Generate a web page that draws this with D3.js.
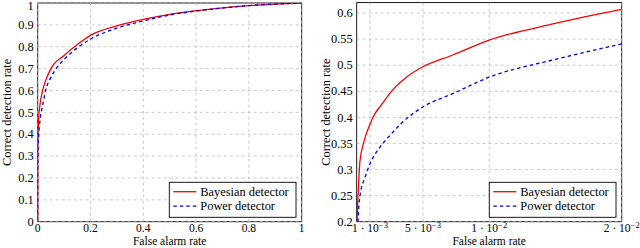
<!DOCTYPE html>
<html><head><meta charset="utf-8">
<script src="https://cdn.jsdelivr.net/npm/d3@7/dist/d3.min.js"></script>
<style>body{margin:0;background:#fff}svg{display:block}</style>
</head><body><svg id="c" width="640" height="248" font-family="Liberation Serif, DejaVu Serif, serif" font-size="12.4px"></svg>
<script>
// Bayesian detector ROC
const bayesX = [0, 0.00003, 0.00012, 0.00025, 0.0005, 0.001, 0.0014, 0.0018, 0.0028, 0.0038, 0.005, 0.0073, 0.01, 0.0148, 0.02, 0.03, 0.05, 0.1, 0.15, 0.2, 0.3, 0.4, 0.5, 0.6, 0.7, 0.8, 0.9, 1];
const bayesY = [0, 0.2, 0.259, 0.317, 0.349, 0.387, 0.408, 0.422, 0.455, 0.478, 0.497, 0.52, 0.548, 0.579, 0.607, 0.645, 0.7, 0.76, 0.81, 0.852, 0.895, 0.925, 0.948, 0.965, 0.978, 0.988, 0.995, 1];
// Power detector ROC
const powerX = [0, 0.0001, 0.00025, 0.00063, 0.001, 0.00176, 0.0025, 0.0033, 0.005, 0.0073, 0.01, 0.0148, 0.02, 0.03, 0.05, 0.07, 0.1, 0.15, 0.2, 0.3, 0.4, 0.5, 0.6, 0.7, 0.8, 0.9, 1];
const powerY = [0, 0.2, 0.25, 0.285, 0.311, 0.343, 0.365, 0.387, 0.42, 0.446, 0.477, 0.51, 0.541, 0.6, 0.66, 0.7, 0.742, 0.795, 0.835, 0.885, 0.918, 0.945, 0.963, 0.977, 0.988, 0.995, 1];

const leftXTicks = [0, 0.2, 0.4, 0.6, 0.8, 1];
const leftXLabels = ["0", "0.2", "0.4", "0.6", "0.8", "1"];
const leftYTicks = [0, 0.1, 0.2, 0.3, 0.4, 0.5, 0.6, 0.7, 0.8, 0.9, 1];
const leftYLabels = ["0", "0.1", "0.2", "0.3", "0.4", "0.5", "0.6", "0.7", "0.8", "0.9", "1"];
const rightXTicks = [0.001, 0.005, 0.01, 0.02];
const rightXMant = ["1", "5", "1", "2"];
const rightXExp = ["−3", "−3", "−2", "−2"];
const rightYTicks = [0.2, 0.25, 0.3, 0.35, 0.4, 0.45, 0.5, 0.55, 0.6];
const rightYLabels = ["0.2", "0.25", "0.3", "0.35", "0.4", "0.45", "0.5", "0.55", "0.6"];
const seriesNames = ["Bayesian detector", "Power detector"];
const xTitle = "False alarm rate";
const yTitle = "Correct detection rate";

const bayes = bayesX.map((x, i) => [x, bayesY[i]]);
const power = powerX.map((x, i) => [x, powerY[i]]);
const svg = d3.select("#c");

function panel(id, x, y, xt, yt, yl, xLabelFn, legendX) {
  const g = svg.append("g");
  const [x0, x1] = x.range(), [y0, y1] = y.range();
  g.append("clipPath").attr("id", id).append("rect")
    .attr("x", x0).attr("y", y1).attr("width", x1 - x0).attr("height", y0 - y1);
  // frame
  g.append("rect").attr("x", x0).attr("y", y1).attr("width", x1 - x0).attr("height", y0 - y1)
    .attr("fill", "none").attr("stroke", "#000").attr("stroke-width", 0.9);
  // grid
  g.selectAll(".gx").data(xt).join("line")
    .attr("x1", d => x(d)).attr("x2", d => x(d)).attr("y1", y0).attr("y2", y1)
    .attr("stroke", "#b4b4b4").attr("stroke-width", 0.7).attr("stroke-dasharray", "3,3");
  g.selectAll(".gy").data(yt).join("line")
    .attr("y1", d => y(d)).attr("y2", d => y(d)).attr("x1", x0).attr("x2", x1)
    .attr("stroke", "#b4b4b4").attr("stroke-width", 0.7).attr("stroke-dasharray", "3,3");
  // curves
  const line = d3.line().x(d => x(d[0])).y(d => y(d[1])).curve(d3.curveMonotoneX);
  const cg = g.append("g").attr("clip-path", `url(#${id})`);
  cg.append("path").datum(bayes).attr("d", line).attr("fill", "none")
    .attr("stroke", "#ff0000").attr("stroke-width", 1.3);
  cg.append("path").datum(power).attr("d", line).attr("fill", "none")
    .attr("stroke", "#0000ff").attr("stroke-width", 1.3).attr("stroke-dasharray", "3.5,3");
  // y tick labels
  g.selectAll(".yl").data(yt).join("text")
    .attr("x", x0 - 4).attr("y", d => Math.max(y(d) + 4.2, 10)).attr("text-anchor", "end")
    .text((d, i) => yl[i]);
  // x tick labels
  const xg = g.append("g").attr("font-size", "11.5px");
  xt.forEach((d, i) => xLabelFn(xg, x(d), y0 + 10.7, i));
  // titles
  g.append("text").attr("x", (x0 + x1) / 2).attr("y", y0 + 23.7).attr("text-anchor", "middle")
    .attr("font-size", "11.5px").text(xTitle);
  g.append("text").attr("transform", `translate(${x0 - 27},${(y0 + y1) / 2}) rotate(-90)`)
    .attr("text-anchor", "middle").text(yTitle);
  // legend
  const lg = g.append("g");
  lg.append("rect").attr("x", legendX).attr("y", 182.3).attr("width", 126.7).attr("height", 35)
    .attr("fill", "#fff").attr("stroke", "#000").attr("stroke-width", 0.9);
  [["#ff0000", null], ["#0000ff", "3.5,3"]].forEach((s, i) => {
    const yy = 191.7 + i * 14.5;
    lg.append("line").attr("x1", legendX + 4).attr("x2", legendX + 27).attr("y1", yy).attr("y2", yy)
      .attr("stroke", s[0]).attr("stroke-width", 1.3).attr("stroke-dasharray", s[1]);
    lg.append("text").attr("x", legendX + 31).attr("y", yy + 4).text(seriesNames[i]);
  });
}

const xL = d3.scaleLinear().domain([0, 1]).range([37.7, 301.7]);
const yL = d3.scaleLinear().domain([0, 1]).range([221.7, 3]);
panel("cl", xL, yL, leftXTicks, leftYTicks, leftYLabels,
  (g, px, py, i) => g.append("text").attr("x", px).attr("y", py).attr("text-anchor", "middle").text(leftXLabels[i]),
  169.3);

const xR = d3.scaleLinear().domain([0, 0.02]).range([356.7, 621.7]);
const yR = d3.scaleLinear().domain([0.2, 0.62]).range([221.7, 2.6]);
panel("cr", xR, yR, rightXTicks, rightYTicks, rightYLabels,
  (g, px, py, i) => {
    const t = g.append("text").attr("x", px).attr("y", py).attr("text-anchor", "middle");
    t.append("tspan").text(rightXMant[i] + " · 10");
    t.append("tspan").attr("dy", -4.5).attr("font-size", "8.5px").text(rightXExp[i]);
  },
  489.3);
</script></body></html>
